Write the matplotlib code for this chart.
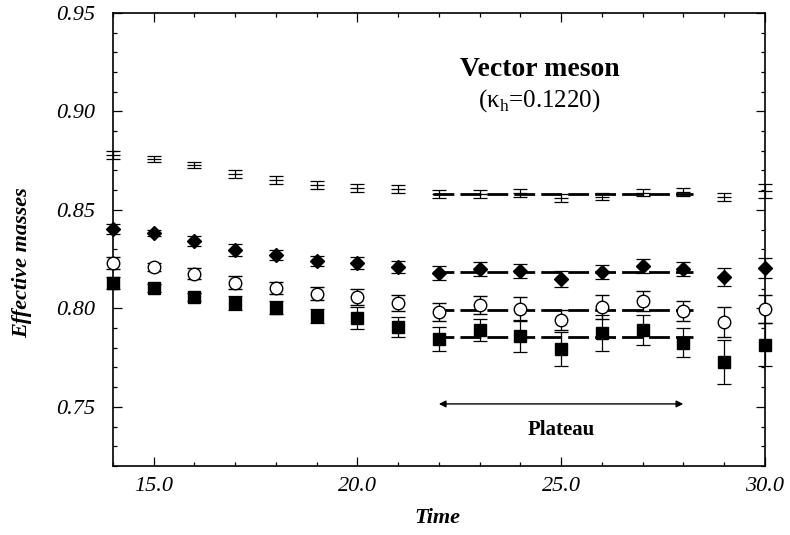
import matplotlib
matplotlib.use("Agg")
import matplotlib.pyplot as plt
from matplotlib.ticker import MultipleLocator, FormatStrFormatter

plt.rcParams["font.family"] = ["Liberation Serif", "DejaVu Serif"]
plt.rcParams["font.style"] = "italic"
plt.rcParams["mathtext.fontset"] = "custom"
plt.rcParams["mathtext.rm"] = "Liberation Serif:roman"

# time slices
time = list(range(14, 31))

# effective masses for the four quark combinations
top_y = [0.878, 0.876, 0.8728, 0.8683, 0.8652, 0.8627, 0.8612, 0.8607, 0.8581,
         0.858, 0.8586, 0.8561, 0.8566, 0.8586, 0.8591, 0.8566, 0.8596]
top_err = [0.002, 0.0015, 0.0017, 0.002, 0.002, 0.002, 0.002, 0.002, 0.002,
           0.002, 0.002, 0.0022, 0.0018, 0.0018, 0.002, 0.0022, 0.0035]

diam_y = [0.8404, 0.8383, 0.8343, 0.8297, 0.8272, 0.8241, 0.8231, 0.821, 0.818,
          0.820, 0.819, 0.815, 0.8185, 0.8216, 0.820, 0.816, 0.8206]
diam_err = [0.0025, 0.0015, 0.0025, 0.003, 0.0025, 0.0025, 0.003, 0.003, 0.0035,
            0.0034, 0.0037, 0.004, 0.0037, 0.0035, 0.0034, 0.0046, 0.005]

circ_y = [0.8231, 0.821, 0.8175, 0.813, 0.8104, 0.8074, 0.8058, 0.8028, 0.798,
          0.8018, 0.7997, 0.7942, 0.8008, 0.8038, 0.7987, 0.7932, 0.7997]
circ_err = [0.003, 0.002, 0.0028, 0.0034, 0.003, 0.0034, 0.004, 0.004, 0.0045,
            0.0045, 0.006, 0.005, 0.006, 0.005, 0.005, 0.0075, 0.007]

sq_y = [0.813, 0.8104, 0.8058, 0.8028, 0.8003, 0.7962, 0.7952, 0.7906, 0.7845,
        0.7891, 0.786, 0.7794, 0.7876, 0.7891, 0.7825, 0.7728, 0.7815]
sq_err = [0.003, 0.002, 0.002, 0.0035, 0.0034, 0.0036, 0.0057, 0.005, 0.006,
          0.0056, 0.008, 0.0085, 0.009, 0.0075, 0.0073, 0.011, 0.011]

# plateau fits
fit_vals = [0.858, 0.8185, 0.799, 0.7855]
fit_range = [21.85, 28.25]
plateau = [22, 28]

fig = plt.figure(figsize=(7.9, 5.35), dpi=100)
ax = fig.add_axes([0.143, 0.129, 0.825, 0.847])

for m in fit_vals:
    ln, = ax.plot(fit_range, [m, m], color="black", lw=2.0, zorder=2)
    ln.set_dashes([7.5, 2.2])

common = dict(ls="none", ecolor="black", elinewidth=0.9, capsize=5,
              capthick=0.9, clip_on=False, zorder=3)
ax.errorbar(time, top_y, yerr=top_err, fmt="_", color="black", ms=10, mew=0.9, **common)
ax.errorbar(time, diam_y, yerr=diam_err, fmt="D", color="black", ms=7, **common)
ax.errorbar(time, circ_y, yerr=circ_err, fmt="o", color="black", mfc="white",
            ms=9, mew=1.0, **common)
ax.errorbar(time, sq_y, yerr=sq_err, fmt="s", color="black", ms=8.5, **common)

ax.annotate("", xy=(plateau[0], 0.7515), xytext=(plateau[1], 0.7515),
            arrowprops=dict(arrowstyle="<|-|>", color="black", lw=1.0,
                            mutation_scale=10, shrinkA=0, shrinkB=0))
ax.text(25, 0.7383, "Plateau", ha="center", va="center", fontsize=15,
        fontweight="bold", fontstyle="normal")
ax.text(24.47, 0.921, "Vector meson", ha="center", va="center", fontsize=20,
        fontweight="bold", fontstyle="normal")
ax.text(24.47, 0.9055, "(κ$_{\\mathrm{h}}$=0.1220)", ha="center", va="center",
        fontsize=18, fontstyle="normal")

ax.set_xlim(14, 30)
ax.set_ylim(0.72, 0.95)
ax.xaxis.set_major_locator(MultipleLocator(5))
ax.xaxis.set_minor_locator(MultipleLocator(1))
ax.yaxis.set_major_locator(MultipleLocator(0.05))
ax.yaxis.set_minor_locator(MultipleLocator(0.01))
ax.xaxis.set_major_formatter(FormatStrFormatter("%.1f"))
ax.yaxis.set_major_formatter(FormatStrFormatter("%.2f"))

ax.tick_params(which="both", direction="in", top=True, right=True, width=0.9)
ax.tick_params(which="major", length=6.5, labelsize=16)
ax.tick_params(which="minor", length=3.2)
ax.tick_params(axis="x", which="major", pad=8)
ax.tick_params(axis="y", which="major", pad=13)
for sp in ax.spines.values():
    sp.set_linewidth(1.2)

fig.text(22 / 790, 1 - 263 / 535, "Effective masses", rotation=90, ha="center",
         va="center", fontsize=16, fontweight="bold", fontstyle="italic")
fig.text(437 / 790, 1 - 518 / 535, "Time", ha="center", va="center",
         fontsize=16, fontweight="bold", fontstyle="italic")

fig.savefig("out.png", dpi=100)
